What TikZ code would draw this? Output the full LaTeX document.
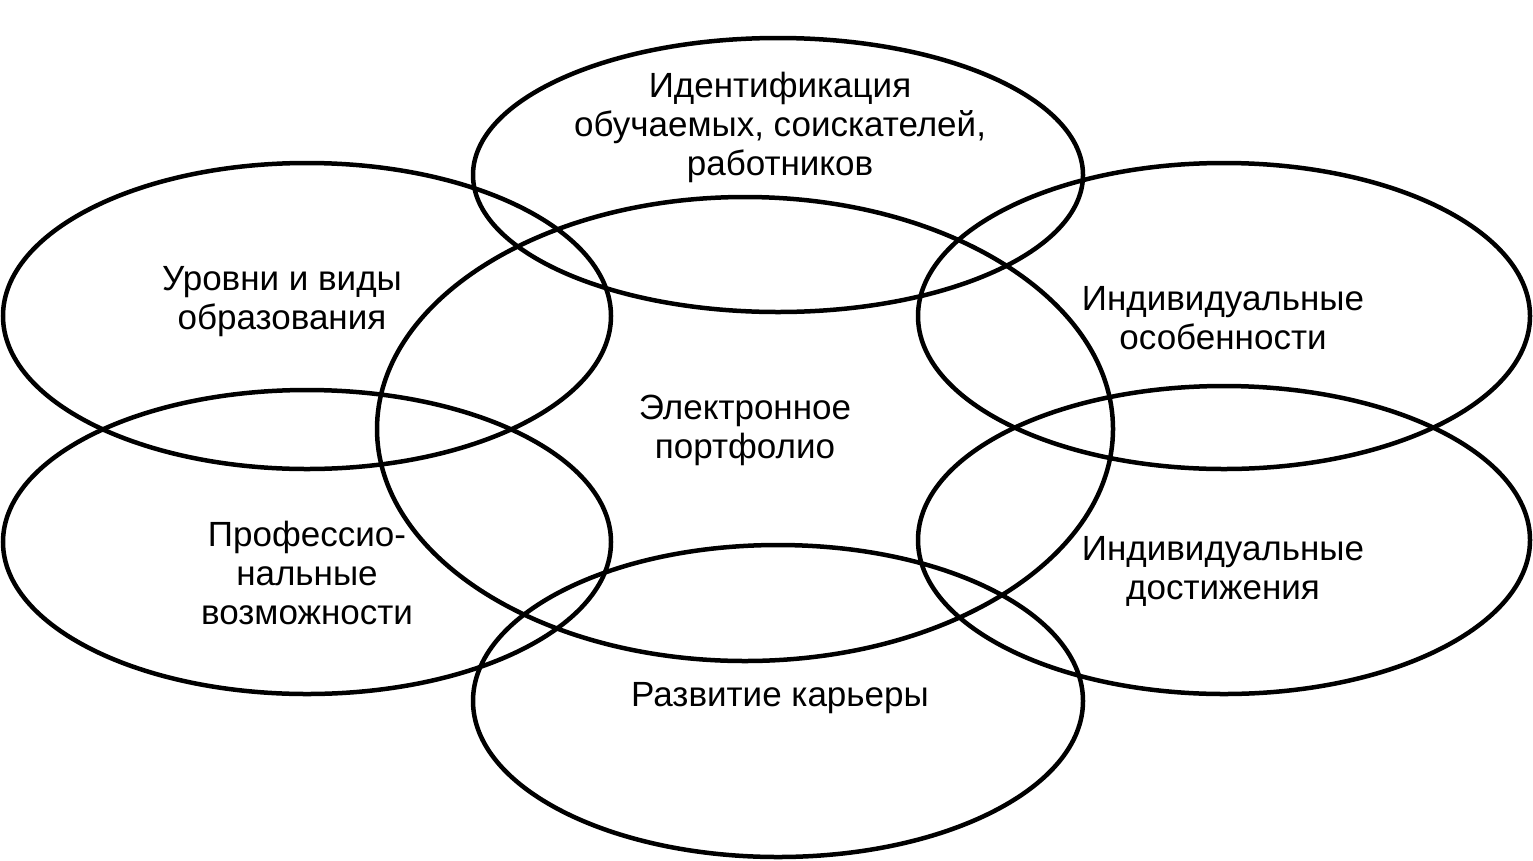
\documentclass[tikz,border=0pt]{standalone}
\usepackage{fontspec}
\setmainfont{Liberation Sans}
\usetikzlibrary{shapes.geometric}
\begin{document}
\begin{tikzpicture}[x=1pt,y=-1pt,
  oval/.style={draw=black,line width=4.5pt,ellipse,inner sep=0pt},
  lbl/.style={align=center,font=\fontsize{35}{39}\selectfont,inner sep=0pt}]
\useasboundingbox (0,0) rectangle (1533,860);
\node[oval,minimum width=610pt,minimum height=274pt] (top) at (778,175) {};
\node[oval,minimum width=608pt,minimum height=306pt] (lt) at (307,316) {};
\node[oval,minimum width=612pt,minimum height=306pt] (rt) at (1224,316) {};
\node[oval,minimum width=608pt,minimum height=304pt] (lb) at (307,542) {};
\node[oval,minimum width=612pt,minimum height=308pt] (rb) at (1224,540) {};
\node[oval,minimum width=610pt,minimum height=312pt] (bot) at (778,701) {};
\node[oval,minimum width=736pt,minimum height=464pt] (ctr) at (745,429) {};
\node[lbl] (ttop) at (780,127) {Идентификация\\обучаемых, соискателей,\\работников};
\node[lbl] (tlt) at (282,302) {Уровни и виды\\образования};
\node[lbl] (trt) at (1223,318) {Индивидуальные\\особенности};
\node[lbl] (tctr) at (745,430) {Электронное\\портфолио};
\node[lbl] (tlb) at (307,573) {Профессио-\\нальные\\возможности};
\node[lbl] (trb) at (1223,571) {Индивидуальные\\достижения};
\node[lbl] (tbot) at (780,698) {Развитие карьеры};
\end{tikzpicture}
\end{document}
